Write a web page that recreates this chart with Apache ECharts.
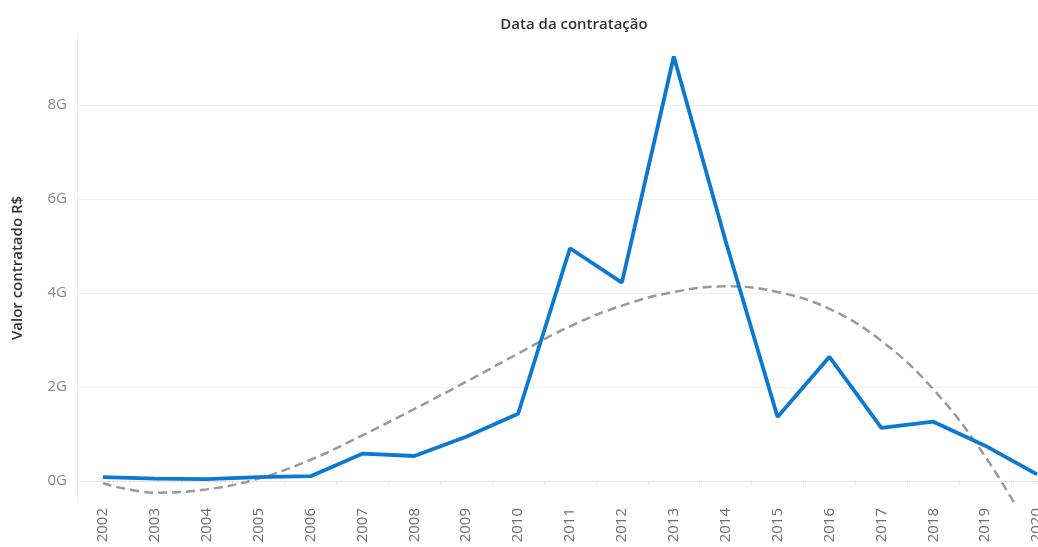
<!DOCTYPE html>
<html>
<head>
<meta charset="utf-8">
<title>Valor contratado por ano</title>
<script src="https://cdn.jsdelivr.net/npm/echarts@6/dist/echarts.min.js"></script>
<style>
  html, body { margin: 0; padding: 0; background: #fff; }
  #main { width: 1038px; height: 547px; }
</style>
</head>
<body>
<div id="main"></div>
<script>
// anos (eixo x)
var anos = ['2002', '2003', '2004', '2005', '2006', '2007', '2008', '2009', '2010', '2011',
            '2012', '2013', '2014', '2015', '2016', '2017', '2018', '2019', '2020'];

// valor contratado, em bilhoes de R$
var valorG = [0.08, 0.05, 0.04, 0.08, 0.10, 0.58, 0.53, 0.94, 1.43, 4.95,
              4.22, 9.03, 5.10, 1.36, 2.64, 1.13, 1.26, 0.75, 0.14];

// linha de tendencia (tracejada), em bilhoes
var tendenciaG = [-0.05, -0.25, -0.18, 0.05, 0.45, 0.97, 1.53, 2.11, 2.71, 3.29,
                  3.73, 4.02, 4.14, 4.02, 3.66, 2.98, 1.95, 0.52, -1.30];

// marcas do eixo y, em bilhoes
var ticksG = [0, 2, 4, 6, 8];

var BI = 1e9;
var valores = valorG.map(function (v) { return v * BI; });
var tendencia = tendenciaG.map(function (v) { return v * BI; });
var ticks = ticksG.map(function (v) { return v * BI; });

var fonte = '"Open Sans", "Noto Sans", sans-serif';

var myChart = echarts.init(document.getElementById('main'));

var option = {
    animation: false,
    title: {
        text: 'Data da contratação',
        left: 569,
        top: 12,
        textAlign: 'center',
        textStyle: {
            fontFamily: fonte,
            fontSize: 15,
            fontWeight: 600,
            color: '#333333'
        }
    },
    grid: {
        left: 77,
        top: 33,
        bottom: 44,
        right: -25,
        containLabel: false,
        outerBoundsMode: 'none'
    },
    xAxis: {
        type: 'category',
        data: anos,
        boundaryGap: true,
        axisLine: { show: true, lineStyle: { color: '#eeeeee', width: 1 } },
        axisTick: { show: true, length: 4, interval: 0, lineStyle: { color: '#e4e4e4' } },
        axisLabel: {
            interval: 0,
            rotate: 90,
            margin: 5,
            fontFamily: fonte,
            fontSize: 15,
            color: '#6e6e6e'
        },
        splitLine: { show: false }
    },
    yAxis: {
        type: 'value',
        min: -0.47 * BI,
        max: 9.53 * BI,
        name: 'Valor contratado R$',
        nameLocation: 'middle',
        nameRotate: 90,
        nameGap: 52,
        nameTextStyle: {
            fontFamily: fonte,
            fontSize: 15,
            fontWeight: 600,
            color: '#333333'
        },
        axisLine: { show: true, lineStyle: { color: '#f0f0f0', width: 1 } },
        axisTick: { show: false, customValues: ticks },
        axisLabel: {
            customValues: ticks,
            margin: 10,
            fontFamily: fonte,
            fontSize: 15,
            color: '#888888',
            formatter: function (v) { return Math.round(v / BI) + 'G'; }
        },
        splitLine: { show: true, lineStyle: { color: '#f0f0f0', width: 1 } }
    },
    series: [
        {
            name: 'tendencia',
            type: 'line',
            data: tendencia,
            smooth: 0.4,
            symbol: 'none',
            clip: true,
            lineStyle: { color: '#999999', width: 2.5, type: [9, 5] },
            z: 2
        },
        {
            name: 'valor',
            type: 'line',
            data: valores,
            symbol: 'none',
            lineStyle: { color: '#0b78d2', width: 3.8 },
            z: 3,
            markLine: {
                silent: true,
                symbol: 'none',
                label: { show: false },
                lineStyle: { color: '#c8c8c8', width: 1, type: [1, 3] },
                data: [{ yAxis: 0 }]
            }
        }
    ]
};

myChart.setOption(option);
</script>
</body>
</html>
